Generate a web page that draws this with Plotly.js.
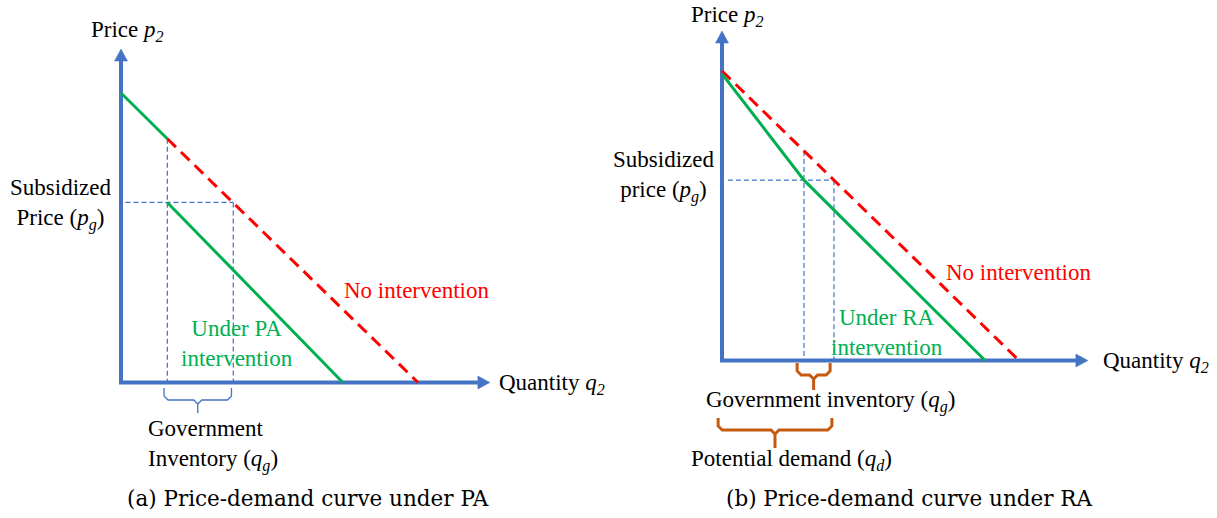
<!DOCTYPE html>
<html>
<head>
<meta charset="utf-8">
<script src="https://cdn.plot.ly/plotly-3.0.1.min.js"></script>
<style>html,body{margin:0;padding:0;background:#fff;}#chart{width:1217px;height:518px;}</style>
</head>
<body>
<div id="chart"></div>
<script>
// ---------- data (economic units: quantity q2, price p2) ----------
// Panel (a): PA intervention
const aNoInterventionQ = [1.56, 10];
const aNoInterventionP = [8.42, 0];
const aUpperDemandQ = [0, 1.56];
const aUpperDemandP = [10, 8.42];
const aPADemandQ = [1.56, 7.47];
const aPADemandP = [6.22, 0];
const aSubsidizedPrice = 6.22;
const aGuideQ = [1.56, 3.78];          // vertical guide positions
const aGuideTopP = [8.42, 6.22];       // where the guides start
const aPriceGuideQ = [0.15, 3.78];
const aInventoryBrace = [1.45, 3.72];  // q-span of government inventory

// Panel (b): RA intervention
const bNoInterventionQ = [0, 10];
const bNoInterventionP = [10, 0];
const bRADemandQ = [0, 2.76, 8.86];
const bRADemandP = [9.9, 6.23, 0];
const bSubsidizedPrice = 6.23;
const bGuideQ = [2.76, 3.77];
const bGuideTopP = [7.24, 6.23];
const bPriceGuideQ = [0.2, 3.77];
const bInventoryBrace = [2.53, 3.64];
const bDemandBrace = [-0.13, 3.70];

const axisTipA = {q: 12.42, p: 11.52};
const axisTipB = {q: 12.32, p: 11.38};

// ---------- styles ----------
const BLUE = '#4472C4', RED = '#FF0000', GREEN = '#00B050', ORANGE = '#C55A11';
const W = 1217, H = 518;
const PXQ = 29.7, PXP = 28.95;               // pixels per unit
const originA = {x: 121, y: 382.5}, originB = {x: 722, y: 360.5};
const SERIF = '"Liberation Serif", "Times New Roman", Times, serif';
const CAPFONT = '"DejaVu Serif", serif';
const FS = 23;

function axisRange(origin, domain, pxPerUnit, horizontal) {
  if (horizontal) {
    const a = domain[0] * W, b = domain[1] * W;
    return [(a - origin) / pxPerUnit, (b - origin) / pxPerUnit];
  }
  const fromBottom = H - origin;
  return [-fromBottom / pxPerUnit, origin / pxPerUnit];
}

const traces = [];
function line(xa, ya, q, p, color, width, dash) {
  traces.push({x: q, y: p, xaxis: xa, yaxis: ya, mode: 'lines', type: 'scatter',
    line: {color: color, width: width, dash: dash || 'solid'}, hoverinfo: 'skip'});
}
function fillTri(xa, ya, q, p, color) {
  traces.push({x: q, y: p, xaxis: xa, yaxis: ya, mode: 'lines', type: 'scatter', fill: 'toself',
    fillcolor: color, line: {color: color, width: 0.5}, hoverinfo: 'skip'});
}
function axes(xa, ya, tip) {
  const hl = 12, hw = 6.5;
  const hq = hl / PXQ, hp = hl / PXP, wq = hw / PXQ, wp = hw / PXP;
  line(xa, ya, [0, 0, tip.q - hq], [tip.p - hp, 0, 0], BLUE, 4);
  fillTri(xa, ya, [-wq, wq, 0, -wq], [tip.p - hp, tip.p - hp, tip.p, tip.p - hp], BLUE);
  fillTri(xa, ya, [tip.q - hq, tip.q - hq, tip.q, tip.q - hq], [-wp, wp, 0, -wp], BLUE);
}
function brace(xa, ya, span, topPx, midPx, tipPx, color, width) {
  const top = -topPx / PXP, h = -midPx / PXP, tip = -tipPx / PXP;
  const x0 = span[0], x1 = span[1], xm = (x0 + x1) / 2;
  const c = 4 / PXP, d = 4 / PXQ;
  line(xa, ya,
    [x0, x0, x0 + d, xm - d, xm, xm, xm, xm + d, x1 - d, x1, x1],
    [top, h + c, h, h, h - c, tip, h - c, h, h, h + c, top], color, width);
}

// Panel (a)
axes('x', 'y', axisTipA);
line('x', 'y', aPriceGuideQ, [aSubsidizedPrice, aSubsidizedPrice], BLUE, 1.2, '5px,3px');
aGuideQ.forEach((q, i) => line('x', 'y', [q, q], [aGuideTopP[i], 0], BLUE, 1.2, '5px,3px'));
line('x', 'y', aUpperDemandQ, aUpperDemandP, GREEN, 3);
line('x', 'y', aNoInterventionQ, aNoInterventionP, RED, 3, '12px,7px');
line('x', 'y', aPADemandQ, aPADemandP, GREEN, 3);
brace('x', 'y', aInventoryBrace, 5.5, 17.5, 30.5, BLUE, 1.3);

// Panel (b)
axes('x2', 'y2', axisTipB);
line('x2', 'y2', bPriceGuideQ, [bSubsidizedPrice, bSubsidizedPrice], BLUE, 1.2, '5px,3px');
bGuideQ.forEach((q, i) => line('x2', 'y2', [q, q], [bGuideTopP[i], 0], BLUE, 1.2, '5px,3px'));
line('x2', 'y2', bNoInterventionQ, bNoInterventionP, RED, 3, '12px,7px');
line('x2', 'y2', bRADemandQ, bRADemandP, GREEN, 3);
brace('x2', 'y2', bInventoryBrace, 2.5, 14.5, 29.5, ORANGE, 3);
brace('x2', 'y2', bDemandBrace, 57.5, 69.5, 87.5, ORANGE, 3);

// ---------- text ----------
function ann(text, px, py, o) {
  o = o || {};
  return Object.assign({
    text: text, xref: 'paper', yref: 'paper', x: px / W, y: 1 - py / H,
    xanchor: 'center', yanchor: 'middle', showarrow: false, align: 'center',
    font: {family: SERIF, size: FS, color: '#000'}
  }, o);
}
const annotations = [
  ann('Price <i>p<sub>2</sub></i>', 127, 31),
  ann('Subsidized<br>Price (<i>p<sub>g</sub></i>)', 60, 204),
  ann('No intervention', 416, 290, {font: {family: SERIF, size: FS, color: RED}}),
  ann('Under PA<br>intervention', 237, 343, {font: {family: SERIF, size: FS, color: GREEN}}),
  ann('Quantity <i>q<sub>2</sub></i>', 497, 384, {xanchor: 'left'}),
  ann('Government<br>Inventory (<i>q<sub>g</sub></i>)', 146, 446, {xanchor: 'left', align: 'left'}),
  ann('(a) Price-demand curve under PA', 308, 498, {font: {family: CAPFONT, size: 21.5, color: '#000'}}),

  ann('Price <i>p<sub>2</sub></i>', 727, 16),
  ann('Subsidized<br>price (<i>p<sub>g</sub></i>)', 663, 176),
  ann('No intervention', 1018, 272, {font: {family: SERIF, size: FS, color: RED}}),
  ann('Under RA<br>intervention', 887, 332, {font: {family: SERIF, size: FS, color: GREEN}}),
  ann('Quantity <i>q<sub>2</sub></i>', 1101, 362, {xanchor: 'left'}),
  ann('Government inventory (<i>q<sub>g</sub></i>)', 831, 401),
  ann('Potential demand (<i>q<sub>d</sub></i>)', 791, 460),
  ann('(b) Price-demand curve under RA', 909, 498, {font: {family: CAPFONT, size: 21.5, color: '#000'}})
];

const domA = [0, 0.5], domB = [0.5, 1];
const hidden = {visible: false, showgrid: false, zeroline: false, fixedrange: true};
const layout = {
  width: W, height: H, margin: {l: 0, r: 0, t: 0, b: 0},
  paper_bgcolor: '#fff', plot_bgcolor: 'rgba(0,0,0,0)', showlegend: false,
  font: {family: SERIF, size: FS, color: '#000'},
  xaxis: Object.assign({domain: domA, range: axisRange(originA.x, domA, PXQ, true)}, hidden),
  yaxis: Object.assign({domain: [0, 1], range: axisRange(originA.y, null, PXP, false)}, hidden),
  xaxis2: Object.assign({domain: domB, range: axisRange(originB.x, domB, PXQ, true), anchor: 'y2'}, hidden),
  yaxis2: Object.assign({domain: [0, 1], range: axisRange(originB.y, null, PXP, false), anchor: 'x2'}, hidden),
  annotations: annotations
};
Plotly.newPlot('chart', traces, layout, {staticPlot: true, displayModeBar: false});
</script>
</body>
</html>
